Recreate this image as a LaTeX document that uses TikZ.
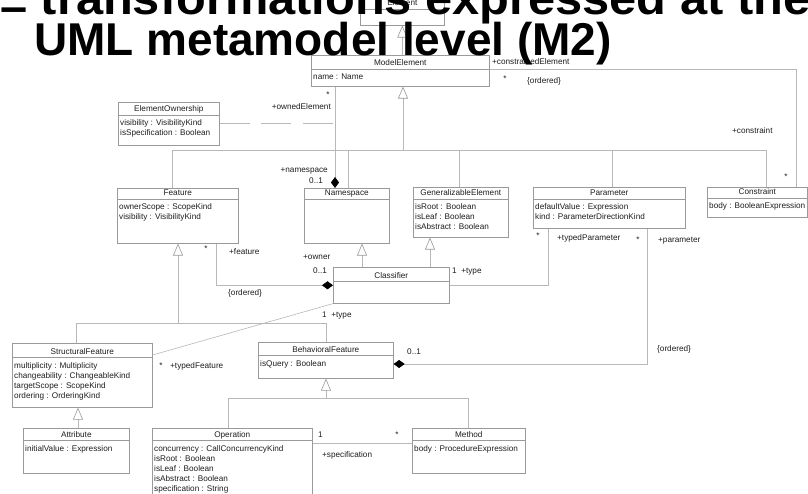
\documentclass[tikz,border=0pt]{standalone}
\usepackage{fontspec}
\setmainfont{Liberation Sans}
\usetikzlibrary{arrows.meta,calc}

\definecolor{boxgray}{HTML}{9A9A9A}
\definecolor{linegray}{HTML}{B8B8B8}
\definecolor{inkgray}{HTML}{1E1E1E}

\tikzset{
  clsbox/.style={draw=boxgray, fill=white, line width=0.6pt, inner sep=0pt},
  clsrule/.style={draw=boxgray, line width=0.6pt},
  smalltext/.style={inner sep=0pt, text=inkgray, font=\fontsize{8.2}{10}\selectfont},
  clstitle/.style={smalltext},
  clsattr/.style={smalltext},
  role/.style={smalltext, text height=6pt, text depth=1.7pt},
  conn/.style={draw=linegray, line width=0.6pt},
  inh/.style={conn, -{Triangle[open, length=12pt, width=10pt, color=boxgray]}},
  comp/.style={conn, -{Diamond[length=11pt, width=8pt, color=black]}},
  headline/.style={inner sep=0pt, font=\fontsize{46}{46}\selectfont\bfseries, text=black},
}

% \umlclass{name}{x}{y}{width}{height}{header height}{class name}{attribute list}
\newcommand\umlclass[8]{%
  \node[clsbox, anchor=north west, minimum width=#4pt, minimum height=#5pt] (#1) at (#2,#3) {};
  \draw[clsrule] ($(#1.north west)+(0,#6)$) -- ($(#1.north east)+(0,#6)$);
  \node[clstitle, anchor=base] (#1-name) at ($(#1.north)+(0,{#6-3})$) {#7};
  \def\attrlist{#8}%
  \ifx\attrlist\empty\else
    \foreach \attrtext [count=\attrno] in {#8}
      \node[clsattr, anchor=base west] (#1-attr\attrno) at ($(#1.north west)+(2,{#6+10*\attrno+1})$) {\attrtext};
  \fi
}

\begin{document}
\begin{tikzpicture}[x=1pt, y=-1pt]
\useasboundingbox (0,0) rectangle (808,494);
\fill[white] (0,0) rectangle (808,494);

% ---- classes ----
\umlclass{Elem}{360}{-5}{84}{30}{14}{Element}{}
\umlclass{ME}{311}{55}{178}{31}{14}{ModelElement}{name : Name}
\umlclass{EO}{118}{102}{101}{43}{13}{ElementOwnership}{visibility : VisibilityKind, isSpecification : Boolean}
\umlclass{Feat}{117}{188}{121}{55}{11}{Feature}{ownerScope : ScopeKind, visibility : VisibilityKind}
\umlclass{NS}{304}{188}{85}{55}{11}{Namespace}{}
\umlclass{GE}{413}{187}{95}{50}{12}{GeneralizableElement}{isRoot : Boolean, isLeaf : Boolean, isAbstract : Boolean}
\umlclass{Par}{533}{187}{152}{41}{12}{Parameter}{defaultValue : Expression, kind : ParameterDirectionKind}
\umlclass{Cons}{707}{187}{100}{30}{11}{Constraint}{body : BooleanExpression}
\umlclass{Cls}{333}{267}{116}{36}{14}{Classifier}{}
\umlclass{SF}{12}{343}{140}{64}{14}{StructuralFeature}{multiplicity : Multiplicity, changeability : ChangeableKind, targetScope : ScopeKind, ordering : OrderingKind}
\umlclass{BF}{258}{342}{135}{36}{13}{BehavioralFeature}{isQuery : Boolean}
\umlclass{Attr}{23}{428}{106}{45}{12}{Attribute}{initialValue : Expression}
\umlclass{Op}{152}{428}{160}{70}{12}{Operation}{concurrency : CallConcurrencyKind, isRoot : Boolean, isLeaf : Boolean, isAbstract : Boolean, specification : String}
\umlclass{Meth}{412}{428}{113}{45}{12}{Method}{body : ProcedureExpression}

% ---- generalizations ----
\draw[inh] (ME.north -| Elem.south) -- (Elem.south);

\coordinate (mebus) at (403,150);
\coordinate (busL) at (172,150);
\coordinate (busR) at (766,150);
\coordinate (busNS) at (348,150);
\coordinate (busGE) at (459,150);
\coordinate (busPar) at (612,150);
\draw[inh] (mebus) -- (mebus |- ME.south);
\draw[conn] (Feat.north -| busL) -- (busL) -- (busR) -- (Cons.north -| busR);
\draw[conn] (busNS) -- (busNS |- NS.north);
\draw[conn] (busGE) -- (busGE |- GE.north);
\draw[conn] (busPar) -- (busPar |- Par.north);

\coordinate (nsX) at (362,255);
\coordinate (geX) at (430,255);
\draw[inh] (Cls.north -| nsX) -- (NS.south -| nsX);
\draw[inh] (Cls.north -| geX) -- (GE.south -| geX);

\coordinate (fbus) at (178,323);
\coordinate (fbusL) at (76,323);
\coordinate (fbusR) at (326,323);
\draw[inh] (fbus) -- (fbus |- Feat.south);
\draw[conn] (SF.north -| fbusL) -- (fbusL) -- (fbusR) -- (BF.north -| fbusR);

\coordinate (attrX) at (78,420);
\draw[inh] (Attr.north -| attrX) -- (SF.south -| attrX);

\coordinate (bbus) at (326,398);
\coordinate (bbusL) at (228,398);
\coordinate (bbusR) at (468,398);
\draw[inh] (bbus) -- (bbus |- BF.south);
\draw[conn] (Op.north -| bbusL) -- (bbusL) -- (bbusR) -- (Meth.north -| bbusR);

% ---- associations ----
\coordinate (ownX) at (335,120);
\draw[comp] (ME.south -| ownX) -- (NS.north -| ownX);
\draw[conn, dash pattern=on 30pt off 11.5pt] (EO.east) -- (EO.east -| ownX);

\coordinate (cTurn) at (796,69);
\draw[conn] (cTurn -| ME.east) -- (cTurn) -- (cTurn |- Cons.north);

\coordinate (featX) at (216,283);
\draw[comp] (Feat.south -| featX) |- (Cls.west);

\coordinate (parX) at (548,283);
\draw[conn] (Cls.east) -| (Par.south -| parX);

\coordinate (pbTurn) at (647,364);
\draw[comp] (Par.south -| pbTurn) -- (pbTurn) -- (BF.east |- pbTurn);

\draw[conn] (Cls.south west) -- ($(SF.north east)+(0,12)$);

\coordinate (omY) at (360,443);
\draw[conn] (Op.east |- omY) -- (Meth.west |- omY);

% ---- role names and multiplicities ----
\node[role, anchor=west] (r1) at (492,62) {+constrainedElement};
\node[role] (r2) at (505,79) {*};
\node[role, anchor=west] (r3) at (527,81) {\{ordered\}};
\node[role] (r4) at (328,95) {*};
\node[role, anchor=east] (r5) at (331,107) {+ownedElement};
\node[role, anchor=east] (r6) at (328,170) {+namespace};
\node[role, anchor=west] (r7) at (309,181) {0..1};
\node[role, anchor=west] (r8) at (732,131) {+constraint};
\node[role] (r9) at (786,177) {*};
\node[role] (r10) at (206,249) {*};
\node[role, anchor=west] (r11) at (229,252) {+feature};
\node[role, anchor=west] (r12) at (303,257) {+owner};
\node[role, anchor=west] (r13) at (313,271) {0..1};
\node[role, anchor=west] (r14) at (228,293) {\{ordered\}};
\node[role, anchor=west] (r15) at (452,271) {1\ \ +type};
\node[role] (r16) at (538,236) {*};
\node[role, anchor=west] (r17) at (557,238) {+typedParameter};
\node[role] (r18) at (638,240) {*};
\node[role, anchor=west] (r19) at (658,240) {+parameter};
\node[role, anchor=west] (r20) at (407,352) {0..1};
\node[role, anchor=west] (r21) at (657,349) {\{ordered\}};
\node[role, anchor=west] (r22) at (322,315) {1\ \ +type};
\node[role] (r23) at (161,366) {*};
\node[role, anchor=west] (r24) at (170,366) {+typedFeature};
\node[role, anchor=west] (r25) at (318,435) {1};
\node[role] (r26) at (397,435) {*};
\node[role, anchor=west] (r27) at (322,455) {+specification};

% ---- slide heading over the diagram ----
\node[headline, anchor=base west] (head1) at (0,15) {\scalebox{1.06}[1]{\raisebox{-8pt}{–} transformations expressed at the}};
\node[headline, anchor=base west] (head2) at (34,56) {UML metamodel level (M2)};
\end{tikzpicture}
\end{document}
